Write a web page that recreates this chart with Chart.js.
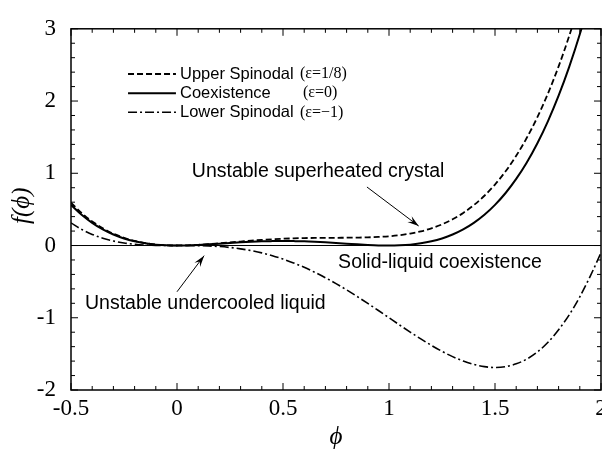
<!DOCTYPE html>
<html>
<head>
<meta charset="utf-8">
<script src="https://cdn.jsdelivr.net/npm/chart.js@4.4.1/dist/chart.umd.min.js"></script>
<style>
  html, body { margin: 0; padding: 0; background: #fff; overflow: hidden; }
  #wrap { position: relative; width: 620px; height: 459px; }
</style>
</head>
<body>
<div id="wrap"><canvas id="chart"></canvas></div>
<script>
// ---- DATA ----
const phi = [-0.5, -0.45, -0.4, -0.35, -0.3, -0.25, -0.2, -0.15, -0.1, -0.05,
    0, 0.05, 0.1, 0.15, 0.2, 0.25, 0.3, 0.35, 0.4, 0.45,
    0.5, 0.55, 0.6, 0.65, 0.7, 0.75, 0.8, 0.85, 0.9, 0.95,
    1.0, 1.05, 1.1, 1.15, 1.2, 1.25, 1.3, 1.35, 1.4, 1.45,
    1.5, 1.55, 1.6, 1.65, 1.7, 1.75, 1.8, 1.85, 1.9, 1.95, 2.0];

const upperSpinodal = [0.594, 0.451, 0.334, 0.239, 0.163, 0.106, 0.063, 0.033, 0.013, 0.003,
    0, 0.003, 0.009, 0.019, 0.031, 0.043, 0.055, 0.067, 0.078, 0.087,
    0.094, 0.099, 0.103, 0.105, 0.106, 0.107, 0.108, 0.110, 0.113, 0.119,
    0.128, 0.143, 0.165, 0.196, 0.238, 0.293, 0.363, 0.451, 0.559, 0.689,
    0.844, 1.027, 1.242, 1.491, 1.777, 2.106, 2.479, 2.901, 3.375, 3.907, 4.5];

const coexistence = [0.563, 0.426, 0.314, 0.223, 0.152, 0.098, 0.058, 0.030, 0.012, 0.003,
    0, 0.002, 0.008, 0.016, 0.026, 0.035, 0.044, 0.052, 0.058, 0.061,
    0.063, 0.061, 0.058, 0.052, 0.044, 0.035, 0.026, 0.016, 0.008, 0.002,
    0, 0.003, 0.012, 0.030, 0.058, 0.098, 0.152, 0.223, 0.314, 0.426,
    0.563, 0.727, 0.922, 1.150, 1.416, 1.723, 2.074, 2.473, 2.924, 3.432, 4.0];

const lowerSpinodal = [0.313, 0.223, 0.154, 0.101, 0.062, 0.035, 0.018, 0.007, 0.002, 0.0,
    0, 0.0, -0.002, -0.006, -0.014, -0.027, -0.046, -0.071, -0.102, -0.141,
    -0.188, -0.241, -0.302, -0.371, -0.446, -0.527, -0.614, -0.706, -0.802, -0.900,
    -1.0, -1.100, -1.198, -1.293, -1.382, -1.465, -1.538, -1.599, -1.646, -1.677,
    -1.688, -1.676, -1.638, -1.572, -1.474, -1.340, -1.166, -0.960, -0.710, -0.420, -0.1];

const zeroLine = [[-0.5, 0], [2.0, 0]];

const xTicks = [-0.5, 0, 0.5, 1, 1.5, 2];
const yTicks = [-2, -1, 0, 1, 2, 3];

const seriesNames = ['Upper Spinodal', 'Coexistence', 'Lower Spinodal'];
const seriesEps = ['(\u03B5=1/8)', '(\u03B5=0)', '(\u03B5=\u22121)'];

// annotation anchors in data units
const notes = [
    { text: 'Unstable superheated crystal', x: 0.07, y: 1.02 },
    { text: 'Solid-liquid coexistence', x: 0.76, y: -0.24 },
    { text: 'Unstable undercooled liquid', x: -0.434, y: -0.81 }
];
const arrows = [
    { from: [0.896, 0.81], to: [1.14, 0.27] },
    { from: [0.0, -0.64], to: [0.128, -0.14] }
];

const pts = (ys) => phi.map((x, i) => ({ x: x, y: ys[i] }));

const SANS = "'Liberation Sans', Arial, sans-serif";
const SERIF = "'Liberation Serif', 'Times New Roman', serif";
const PHI = '\u03D5';

// ---- CUSTOM DRAWING: frame, inner ticks, legend, labels, arrows ----
const decorPlugin = {
    id: 'decor',
    afterDatasetsDraw(chart) {
        const ctx = chart.ctx;
        const xs = chart.scales.x, ys = chart.scales.y;
        const a = chart.chartArea;
        ctx.save();
        ctx.strokeStyle = '#000';
        ctx.fillStyle = '#000';

        // frame
        ctx.lineWidth = 1.5;
        ctx.strokeRect(a.left, a.top, a.right - a.left, a.bottom - a.top);

        // inward ticks on all four sides
        ctx.lineWidth = 1;
        for (let i = 0; i <= 25; i++) {
            const v = -0.5 + i * 0.1;
            const px = xs.getPixelForValue(v);
            const len = (i % 5 === 0) ? 7 : 4;
            ctx.beginPath();
            ctx.moveTo(px, a.bottom); ctx.lineTo(px, a.bottom - len);
            ctx.moveTo(px, a.top); ctx.lineTo(px, a.top + len);
            ctx.stroke();
        }
        for (let i = 0; i <= 25; i++) {
            const v = -2 + i * 0.2;
            const py = ys.getPixelForValue(v);
            const len = (i % 5 === 0) ? 7 : 4;
            ctx.beginPath();
            ctx.moveTo(a.left, py); ctx.lineTo(a.left + len, py);
            ctx.moveTo(a.right, py); ctx.lineTo(a.right - len, py);
            ctx.stroke();
        }

        // legend
        const lx0 = xs.getPixelForValue(-0.231), lx1 = xs.getPixelForValue(-0.005);
        const tx = xs.getPixelForValue(0.014), ex = xs.getPixelForValue(0.58);
        const ly = [2.374, 2.109, 1.844];
        ctx.textBaseline = 'middle';
        ctx.textAlign = 'left';
        for (let i = 0; i < 3; i++) {
            const ds = chart.data.datasets[i];
            const py = ys.getPixelForValue(ly[i]);
            ctx.save();
            ctx.lineWidth = ds.borderWidth;
            ctx.setLineDash(ds.borderDash || []);
            ctx.beginPath();
            ctx.moveTo(lx0, py); ctx.lineTo(lx1, py);
            ctx.stroke();
            ctx.restore();
            ctx.font = '16.5px ' + SANS;
            ctx.fillText(seriesNames[i], tx, py);
            ctx.font = '16px ' + SERIF;
            ctx.fillText(seriesEps[i], ex + (i === 1 ? 3 : 0), py);
        }

        // annotations
        ctx.font = '19.5px ' + SANS;
        notes.forEach(n => {
            ctx.fillText(n.text, xs.getPixelForValue(n.x), ys.getPixelForValue(n.y));
        });

        // arrows
        arrows.forEach(ar => {
            const x0 = xs.getPixelForValue(ar.from[0]), y0 = ys.getPixelForValue(ar.from[1]);
            const x1 = xs.getPixelForValue(ar.to[0]), y1 = ys.getPixelForValue(ar.to[1]);
            const ang = Math.atan2(y1 - y0, x1 - x0);
            ctx.lineWidth = 1;
            ctx.beginPath();
            ctx.moveTo(x0, y0); ctx.lineTo(x1, y1);
            ctx.stroke();
            const hl = 12, hw = 0.3;
            ctx.beginPath();
            ctx.moveTo(x1, y1);
            ctx.lineTo(x1 - hl * Math.cos(ang - hw), y1 - hl * Math.sin(ang - hw));
            ctx.lineTo(x1 - hl * 0.6 * Math.cos(ang), y1 - hl * 0.6 * Math.sin(ang));
            ctx.lineTo(x1 - hl * Math.cos(ang + hw), y1 - hl * Math.sin(ang + hw));
            ctx.closePath();
            ctx.fill();
        });

        // axis titles
        ctx.textAlign = 'center';
        ctx.font = 'italic 25px ' + SERIF;
        ctx.fillText(PHI, (a.left + a.right) / 2, 437);
        ctx.save();
        ctx.translate(22, ys.getPixelForValue(0.55));
        ctx.rotate(-Math.PI / 2);
        ctx.fillText('f(' + PHI + ')', 0, 0);
        ctx.restore();

        ctx.restore();
    }
};

const ctx = document.getElementById('chart').getContext('2d');
new Chart(ctx, {
    type: 'line',
    data: {
        datasets: [
            { label: seriesNames[0], data: pts(upperSpinodal), borderColor: '#000', borderWidth: 1.8, borderDash: [6, 3] },
            { label: seriesNames[1], data: pts(coexistence), borderColor: '#000', borderWidth: 2 },
            { label: seriesNames[2], data: pts(lowerSpinodal), borderColor: '#000', borderWidth: 1.6, borderDash: [9, 3, 2, 3] },
            { label: 'zero', data: zeroLine.map(p => ({ x: p[0], y: p[1] })), borderColor: '#000', borderWidth: 1 }
        ]
    },
    options: {
        responsive: true,
        maintainAspectRatio: false,
        animation: false,
        layout: { padding: { top: 13, right: 19, left: 0, bottom: 0 } },
        elements: {
            point: { radius: 0 },
            line: { cubicInterpolationMode: 'monotone', fill: false }
        },
        plugins: { legend: { display: false }, tooltip: { enabled: false } },
        scales: {
            x: {
                type: 'linear', min: -0.5, max: 2,
                afterBuildTicks: s => { s.ticks = xTicks.map(v => ({ value: v })); },
                afterFit: s => { s.height = 69; },
                grid: { display: false, drawTicks: false },
                border: { display: false },
                ticks: { color: '#000', padding: 5, font: { family: SERIF, size: 23 }, callback: v => String(v) }
            },
            y: {
                min: -2, max: 3,
                afterBuildTicks: s => { s.ticks = yTicks.map(v => ({ value: v })); },
                afterFit: s => { s.width = 71; },
                grid: { display: false, drawTicks: false },
                border: { display: false },
                ticks: { color: '#000', padding: 15, font: { family: SERIF, size: 23 }, callback: v => String(v) }
            }
        }
    },
    plugins: [decorPlugin]
});
</script>
</body>
</html>
